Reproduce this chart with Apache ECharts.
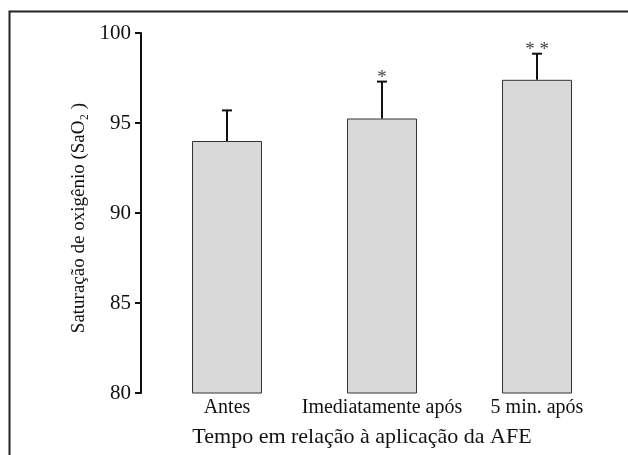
<!DOCTYPE html>
<html>
<head>
<meta charset="utf-8">
<script src="https://cdn.jsdelivr.net/npm/echarts@6/dist/echarts.min.js"></script>
<style>
  html, body { margin: 0; padding: 0; background: #fff; }
  #chart { width: 628px; height: 455px; }
</style>
</head>
<body>
<div id="chart"></div>
<script>
// dados
const categorias = ['Antes', 'Imediatamente após', '5 min. após'];
const medias = [94.0, 95.25, 97.4];
const erroSuperior = [95.7, 97.3, 98.85];
const marcas = ['', '*', '* *'];
const yTicks = [80, 85, 90, 95, 100];

const fonte = '"Liberation Serif", "DejaVu Serif", serif';

const errData = categorias.map((c, i) => [i, medias[i], erroSuperior[i], marcas[i]]);

const myChart = echarts.init(document.getElementById('chart'));
myChart.setOption({
    animation: false,
    backgroundColor: '#fff',
    grid: {
        left: 149.5,
        right: 13.5,
        top: 33,
        bottom: 62
    },
    graphic: [{
        type: 'rect',
        shape: { x: 9.5, y: 11.5, width: 700, height: 500 },
        style: { fill: 'none', stroke: '#222', lineWidth: 2 },
        z: 0
    }],
    xAxis: {
        type: 'category',
        data: categorias,
        axisLine: { show: false },
        axisTick: { show: false },
        axisLabel: {
            interval: 0,
            margin: 5,
            color: '#111',
            fontFamily: fonte,
            fontSize: 20
        },
        name: 'Tempo em relação à aplicação da AFE',
        nameLocation: 'middle',
        nameGap: 33,
        nameTextStyle: {
            color: '#111',
            fontFamily: fonte,
            fontSize: 22,
            padding: [0, 40, 0, 0]
        }
    },
    yAxis: {
        type: 'value',
        min: yTicks[0],
        max: yTicks[yTicks.length - 1],
        interval: 5,
        offset: 8.5,
        axisLine: { show: true, lineStyle: { color: '#111', width: 2 } },
        axisTick: { show: true, length: 6, lineStyle: { color: '#111', width: 2 } },
        splitLine: { show: false },
        axisLabel: {
            margin: 10,
            color: '#111',
            fontFamily: fonte,
            fontSize: 21
        },
        name: 'Saturação de oxigênio (SaO₂ )',
        nameLocation: 'middle',
        nameRotate: 90,
        nameGap: 46,
        nameTextStyle: {
            color: '#111',
            fontFamily: fonte,
            fontSize: 19,
            padding: [0, 10, 0, 0]
        }
    },
    series: [
        {
            type: 'bar',
            data: medias,
            barWidth: 70,
            itemStyle: {
                color: '#d9d9d9',
                borderColor: '#333',
                borderWidth: 1
            },
            z: 2
        },
        {
            type: 'custom',
            data: errData,
            z: 3,
            renderItem: function (params, api) {
                const base = api.coord([api.value(0), api.value(1)]);
                const top = api.coord([api.value(0), api.value(2)]);
                const x = Math.round(base[0]);
                const cap = 5;
                const marca = marcas[params.dataIndex];
                const children = [
                    {
                        type: 'line',
                        shape: { x1: x, y1: base[1], x2: x, y2: top[1] },
                        style: { stroke: '#111', lineWidth: 2 }
                    },
                    {
                        type: 'line',
                        shape: { x1: x - cap, y1: top[1], x2: x + cap, y2: top[1] },
                        style: { stroke: '#111', lineWidth: 2 }
                    }
                ];
                if (marca) {
                    children.push({
                        type: 'text',
                        style: {
                            text: marca,
                            x: x,
                            y: top[1] + 6,
                            align: 'center',
                            verticalAlign: 'bottom',
                            fill: '#444',
                            font: '19px ' + fonte
                        }
                    });
                }
                return { type: 'group', children: children };
            }
        }
    ]
});
</script>
</body>
</html>
